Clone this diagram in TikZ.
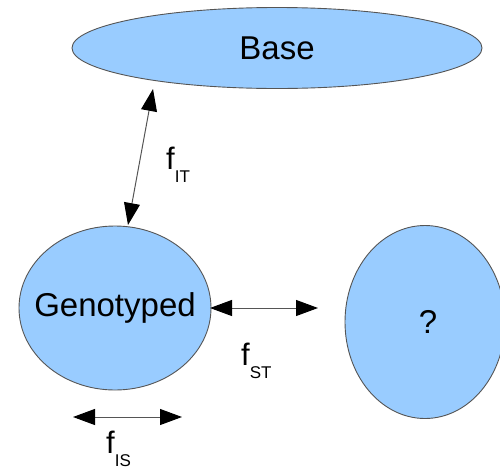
\documentclass[tikz,border=0pt]{standalone}
\usepackage{fontspec}
\setmainfont{Liberation Sans}
\usetikzlibrary{shapes.geometric,arrows.meta}
\definecolor{blobfill}{HTML}{99CCFF}
\definecolor{blobline}{HTML}{555555}
\begin{document}
\begin{tikzpicture}[x=1pt,y=-1pt,
  blob/.style={ellipse,draw=blobline,line width=0.9pt,fill=blobfill,inner sep=0pt,
    font=\fontsize{33}{33}\selectfont},
  link/.style={draw=blobline,line width=1pt,
    {Triangle[length=22pt,width=16pt,color=black]}-{Triangle[length=22pt,width=16pt,color=black]}},
  flabel/.style={anchor=base west,inner sep=0pt}]
\useasboundingbox (0,0) rectangle (500,469);
\begin{scope}
\clip (0,0) rectangle (500,469);
\node[blob,minimum width=410pt,minimum height=81pt] (base) at (277,48) {};
\node[blob,minimum width=192pt,minimum height=164pt] (geno) at (115,308) {};
\node[blob,minimum width=160pt,minimum height=193pt] (unk) at (425,322) {};
\end{scope}
\node[font=\fontsize{33}{33}\selectfont] (basetxt) at (277,48) {Base};
\node[font=\fontsize{33}{33}\selectfont] (genotxt) at (115,308) {Genotyped};
\node[font=\fontsize{33}{33}\selectfont] (unktxt) at (428,322) {?};
% arrow ends
\coordinate (it1) at (153,89);
\coordinate (it2) at (128,225);
\coordinate (st1) at (210,308);
\coordinate (st2) at (318,308);
\coordinate (is1) at (73,417);
\coordinate (is2) at (182,417);
\draw[link] (it1) -- (it2);
\draw[link] (st1) -- (st2);
\draw[link] (is1) -- (is2);
% labels
\newcommand{\fsub}[1]{\fontsize{31}{31}\selectfont f\raisebox{-13pt}{\fontsize{17}{17}\selectfont #1}}
\node[flabel] (fit) at (166,169) {\fsub{IT}};
\node[flabel] (fst) at (241,365) {\fsub{ST}};
\node[flabel] (fis) at (106,453) {\fsub{IS}};
\end{tikzpicture}
\end{document}
